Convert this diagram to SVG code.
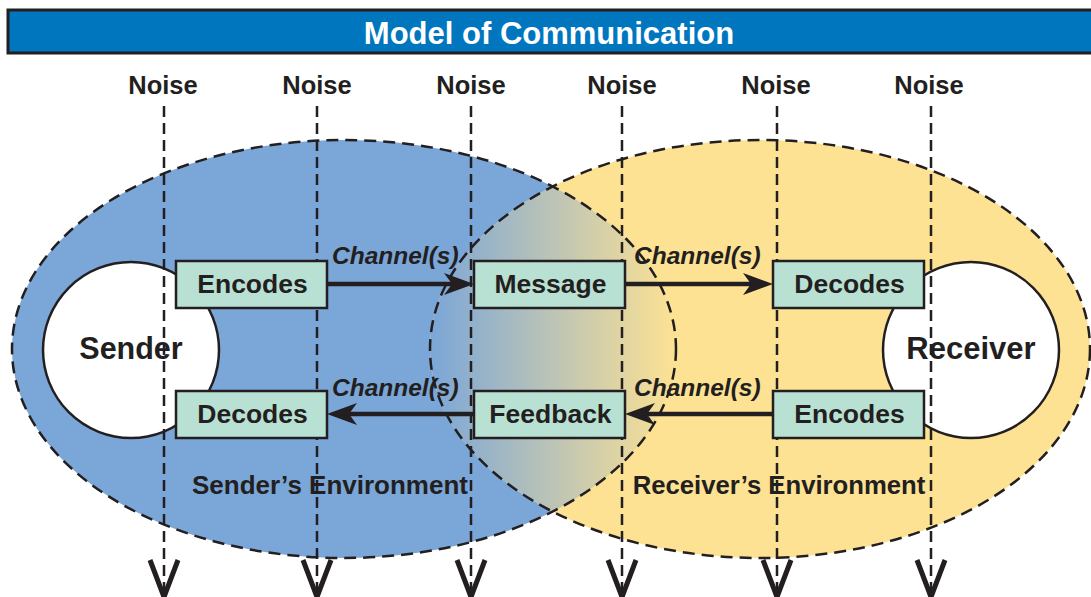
<svg xmlns="http://www.w3.org/2000/svg" width="1091" height="597" viewBox="0 0 1091 597">
<style>
.t{font-family:"Liberation Sans",Arial,sans-serif;font-weight:bold;fill:#231f20}
.ch{font-family:"Liberation Sans",Arial,sans-serif;font-weight:bold;font-style:italic;font-size:24.5px;fill:#231f20}
.box{fill:#b9e1d3;stroke:#231f20;stroke-width:2.5}
.env{fill:none;stroke:#231f20;stroke-width:2.5;stroke-dasharray:12 7}
.noise{stroke:#231f20;stroke-width:2.5;stroke-dasharray:11 6;fill:none}
.vee{fill:none;stroke:#231f20;stroke-width:5}
.arr{stroke:#231f20;stroke-width:4.5;fill:none;marker-end:url(#ah)}
.circ{fill:#fff;stroke:#231f20;stroke-width:2.5}
</style>
<defs>
<linearGradient id="lens" gradientUnits="userSpaceOnUse" x1="430" y1="0" x2="676" y2="0">
<stop offset="0" stop-color="#7ba6d8"/>
<stop offset="1" stop-color="#fde293"/>
</linearGradient>
<clipPath id="leftClip"><ellipse cx="344" cy="349" rx="332" ry="209"/></clipPath>
<marker id="ah" markerUnits="userSpaceOnUse" markerWidth="30" markerHeight="22" viewBox="0 0 30 22" refX="8" refY="11" orient="auto">
<path d="M0,0 L30,11 L0,22 L8,11 Z" fill="#231f20"/>
</marker>
</defs>
<rect width="1091" height="597" fill="#fff"/>
<g id="title">
<rect x="8" y="10" width="1090" height="43" fill="#0076be" stroke="#231f20" stroke-width="3"/>
<text class="t" x="549" y="44" font-size="31" text-anchor="middle" style="fill:#fff">Model of Communication</text>
</g>
<g id="environments">
<ellipse cx="344" cy="349" rx="332" ry="209" fill="#7ba6d8"/>
<ellipse cx="760" cy="349" rx="330" ry="209" fill="#fde293"/>
<ellipse cx="760" cy="349" rx="330" ry="209" fill="url(#lens)" clip-path="url(#leftClip)"/>
<ellipse class="env" cx="344" cy="349" rx="332" ry="209"/>
<ellipse class="env" cx="760" cy="349" rx="330" ry="209"/>
<text class="t" x="330" y="494" font-size="26" text-anchor="middle">Sender’s Environment</text>
<text class="t" x="779" y="494" font-size="25.7" text-anchor="middle">Receiver’s Environment</text>
</g>
<g id="sender"><circle class="circ" cx="131" cy="350" r="88"/></g>
<g id="receiver"><circle class="circ" cx="971" cy="350" r="88"/></g>
<g id="noise">
<g class="t" font-size="25.5" text-anchor="middle">
<text x="163" y="94">Noise</text>
<text x="317" y="94">Noise</text>
<text x="471" y="94">Noise</text>
<text x="622" y="94">Noise</text>
<text x="776" y="94">Noise</text>
<text x="929" y="94">Noise</text>
</g>
<path class="noise" d="M164,106V592 M317,106V592 M471,106V592 M622,106V592 M777,106V592 M931,106V592"/>
<path class="vee" d="M150,560L164,597L178,560 M303,560L317,597L331,560 M457,560L471,597L485,560 M608,560L622,597L636,560 M763,560L777,597L791,560 M917,560L931,597L945,560"/>
</g>
<g id="sender-label"><text class="t" x="131" y="359" font-size="30.5" text-anchor="middle">Sender</text></g>
<g id="receiver-label"><text class="t" x="971" y="359" font-size="31" text-anchor="middle">Receiver</text></g>
<g id="connectors">
<path class="arr" d="M327,284H452"/>
<path class="arr" d="M625,284H751"/>
<path class="arr" d="M474,414H349"/>
<path class="arr" d="M773,414H647"/>
<text class="ch" x="332" y="264">Channel(s)</text>
<text class="ch" x="332" y="396">Channel(s)</text>
<text class="ch" x="634" y="264">Channel(s)</text>
<text class="ch" x="634" y="396">Channel(s)</text>
</g>
<g id="encodes-s"><rect class="box" x="176" y="261" width="151" height="47"/><text class="t" x="252.5" y="293" font-size="26.5" text-anchor="middle">Encodes</text></g>
<g id="decodes-s"><rect class="box" x="176" y="391" width="151" height="47"/><text class="t" x="252.5" y="423" font-size="26.5" text-anchor="middle">Decodes</text></g>
<g id="message"><rect class="box" x="474" y="261" width="151" height="47"/><text class="t" x="550.5" y="293" font-size="26.5" text-anchor="middle">Message</text></g>
<g id="feedback"><rect class="box" x="474" y="391" width="151" height="47"/><text class="t" x="550.5" y="423" font-size="26.5" text-anchor="middle">Feedback</text></g>
<g id="decodes-r"><rect class="box" x="773" y="261" width="151" height="47"/><text class="t" x="849.5" y="293" font-size="26.5" text-anchor="middle">Decodes</text></g>
<g id="encodes-r"><rect class="box" x="773" y="391" width="151" height="47"/><text class="t" x="849.5" y="423" font-size="26.5" text-anchor="middle">Encodes</text></g>
</svg>
